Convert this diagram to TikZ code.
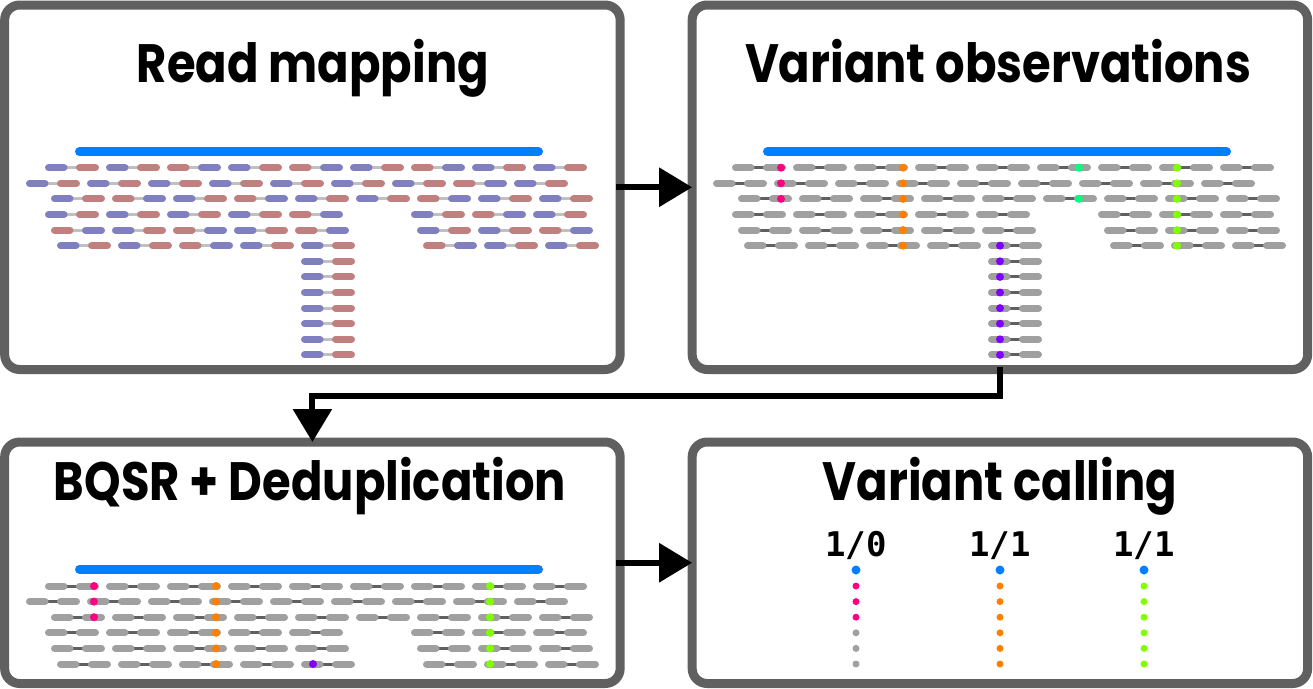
\documentclass[tikz,border=0pt]{standalone}
\usepackage{fontspec}
\setmainfont{Poppins}[FakeStretch=0.86]
\newfontfamily\gtfont{DejaVu Sans Mono}
\usetikzlibrary{arrows.meta, positioning}

\definecolor{frame}{HTML}{606060}
\definecolor{rdblue}{HTML}{8080C0}
\definecolor{rdred}{HTML}{C08080}
\definecolor{rdgray}{HTML}{A0A0A0}
\definecolor{lnlight}{HTML}{C0C0C0}
\definecolor{lndark}{HTML}{606060}
\definecolor{refblue}{HTML}{0080FF}
\definecolor{snpPink}{HTML}{FF0080}
\definecolor{snpOrange}{HTML}{FF8000}
\definecolor{snpPurple}{HTML}{8000FF}
\definecolor{snpGreen}{HTML}{00FF80}
\definecolor{snpLime}{HTML}{80FF00}

\begin{document}
\begin{tikzpicture}[x=1pt,y=-1pt,
    panel/.style={draw=frame,line width=9pt,rounded corners=15pt,fill=white,
      inner sep=0pt,outer sep=0pt,minimum width=615.5pt},
    title/.style={anchor=base,font=\fontsize{54}{60}\selectfont\bfseries},
    gt/.style={anchor=base,font=\fontsize{34}{36}\selectfont\gtfont\bfseries},
    seg/.style={line width=7pt,line cap=round,draw=#1},
    link/.style={line width=3pt,draw=#1},
    refbar/.style={line width=9pt,line cap=round,draw=refblue},
    flow/.style={line width=6pt,-{Triangle[length=33pt,width=38pt]}}]
  \useasboundingbox (0,0) rectangle (1313,688);

  % the four panels
  \node at (312.4,187.25) [panel,minimum height=364.5pt] (map) {};
  \node [panel,minimum height=364.5pt,right=72pt of map] (obs) {};
  \node [panel,minimum height=241.5pt,below=72.5pt of map] (bqsr) {};
  \node [panel,minimum height=241.5pt,below=72.5pt of obs] (call) {};

  \node at (313,82) [title] (tmap) {Read mapping};
  \node at (998,82) [title] (tobs) {Variant observations};
  \node at (310,500) [title] (tbqsr) {BQSR + Deduplication};
  \node at (1000,500) [title] (tcall) {Variant calling};

  % reference
  \foreach \px/\py in {0/0,688/0,0/417.6}
    \draw[refbar] (\px+79.5,\py+151.7) -- (\px+538.5,\py+151.7);

  % read pairs: row/start/{pair/orientation}
  \foreach \px/\py/\ca/\cb/\cl/\nr in {0/0/rdblue/rdred/lnlight/13,
      687/0/rdgray/rdgray/lndark/13, 0/418.3/rdgray/rdgray/lndark/6}{
    \begin{scope}[shift={(\px,\py)}]
      \foreach \r/\s/\pairs in {
          1/45/{0/1,1/1,2/0,3/1,4/0,5/1,6/0,7/1,8/1},
          2/26/{0/1,1/1,2/1,3/1,4/1,5/1,6/1,7/0,8/1},
          3/51/{0/1,1/0,2/1,3/0,4/1,5/1,6/0,7/1,8/1},
          4/45/{0/1,1/1,2/1,3/1,4/0,6/1,7/0,8/1},
          5/51/{0/0,1/1,2/0,3/1,4/0,6/1,7/1,8/0},
          6/57/{0/1,1/1,2/0,3/1,4/1,6/0,7/1,8/1},
          7/57/{4/1}, 8/57/{4/1}, 9/57/{4/1}, 10/57/{4/1},
          11/57/{4/1}, 12/57/{4/1}, 13/57/{4/1}}{
        \ifnum\r>\nr\relax\else
          \foreach \k/\o in \pairs {
            \pgfmathsetmacro\xx{\s+61*\k}
            \pgfmathsetmacro\yy{152.1+15.6*\r}
            \ifnum\o=1 \def\cx{\ca}\def\cy{\cb}\else\def\cx{\cb}\def\cy{\ca}\fi
            \draw[link=\cl] (\xx+11,\yy) -- (\xx+43,\yy);
            \draw[seg=\cx] (\xx+3.5,\yy) -- (\xx+19,\yy);
            \draw[seg=\cy] (\xx+34.5,\yy) -- (\xx+50.5,\yy);
          }
        \fi
      }
    \end{scope}
  }

  % variant observations
  \begin{scope}[shift={(687,0)}]
    \foreach \r in {1,2,3} \fill[snpPink] (94,{152.1+15.6*\r}) circle (4pt);
    \foreach \r in {1,...,6} \fill[snpOrange] (216,{152.1+15.6*\r}) circle (4pt);
    \foreach \r in {6,...,13} \fill[snpPurple] (313,{152.1+15.6*\r}) circle (4pt);
    \foreach \r in {1,3} \fill[snpGreen] (392,{152.1+15.6*\r}) circle (4pt);
    \foreach \r in {1,...,6} \fill[snpLime] (490,{152.1+15.6*\r}) circle (4pt);
  \end{scope}
  \begin{scope}[shift={(0,418.3)}]
    \foreach \r in {1,2,3} \fill[snpPink] (94,{152.1+15.6*\r}) circle (4pt);
    \foreach \r in {1,...,6} \fill[snpOrange] (216,{152.1+15.6*\r}) circle (4pt);
    \fill[snpPurple] (313,{152.1+15.6*6}) circle (4pt);
    \foreach \r in {1,...,6} \fill[snpLime] (490,{152.1+15.6*\r}) circle (4pt);
  \end{scope}

  % genotypes
  \node at (856,556) [gt] (g1) {1/0};
  \node at (1000,556) [gt] (g2) {1/1};
  \node at (1144,556) [gt] (g3) {1/1};
  \foreach \x in {856,1000,1144} \fill[refblue] (\x,570) circle (4.5pt);
  \foreach \i/\c in {1/snpPink,2/snpPink,3/snpPink,4/rdgray,5/rdgray,6/rdgray}{
    \fill[\c] (856,{570.4+15.6*\i}) circle (3.5pt);
    \fill[snpOrange] (1000,{570.4+15.6*\i}) circle (3.5pt);
    \fill[snpLime] (1144,{570.4+15.6*\i}) circle (3.5pt);
  }

  % flow
  \draw[flow,shorten <=-4pt] (map.east) -- (obs.west);
  \draw[flow,shorten <=-3pt] (obs.south) -- ++(0,26) -| (bqsr.north);
  \draw[flow,shorten <=-4pt] (bqsr.east) -- (call.west);
\end{tikzpicture}
\end{document}
